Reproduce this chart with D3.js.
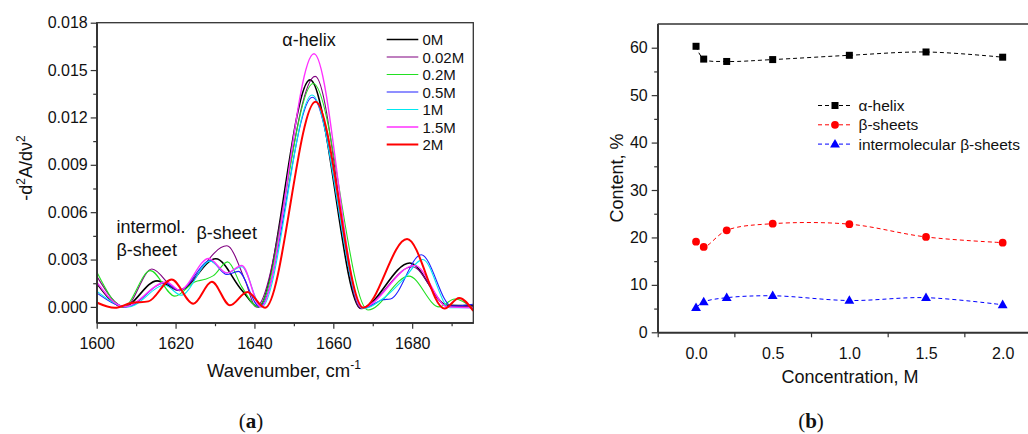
<!DOCTYPE html>
<html>
<head>
  <script src="https://d3js.org/d3.v7.min.js"></script>
  <meta charset='utf-8'>
  <style>
    body { margin: 0; background: #fff; }
    text { font-family: "Liberation Sans", Arial, sans-serif; fill: #111; }
  </style>
</head>
<body>
  <div id="container"></div>
  <script>
  // panel (a): second-derivative spectra, [wavenumber, value x 1e-3]
  const spec0M   = [[1600,1.5],[1606.8,0],[1615.3,1.65],[1621,1.05],[1630.2,3.05],[1636.8,1.06],[1641,0],[1654.1,14.38],[1667,-0.1],[1679.4,2.78],[1689,0.1],[1695.5,0.08]];
  const spec002M = [[1600,1.95],[1607.2,0],[1614,2.4],[1620.5,1.05],[1633,3.87],[1637.6,1.7],[1640.4,0],[1655.4,14.6],[1667,-0.1],[1680,2.54],[1689,0.05],[1695.5,0.05]];
  const spec02M  = [[1600,2.22],[1606.8,0],[1613.6,2.3],[1619.8,0.68],[1625,1.6],[1627.5,1.75],[1629.6,1.98],[1633.2,2.85],[1636.8,1.27],[1640.9,0],[1654.9,14.15],[1668.8,-0.2],[1679.2,1.95],[1686.8,0],[1690.8,0.5],[1695.5,-0.1]];
  const spec05M  = [[1600,0.89],[1607.6,0],[1617.3,1.52],[1621,1.06],[1628.8,2.93],[1633,2.05],[1635.9,2.25],[1641.3,0],[1654.7,13.28],[1667.5,-0.1],[1672.5,0.45],[1674.5,0.5],[1682.3,3.3],[1690,0.05],[1695.5,0.17]];
  const spec1M   = [[1600,1.0],[1608,0],[1617.3,1.37],[1621.4,0.74],[1628.8,2.9],[1633,2.15],[1636.8,2.54],[1641.8,0],[1654.6,13.42],[1667.5,-0.1],[1673,0.6],[1677.8,1.75],[1682.7,3.0],[1689.5,-0.05],[1695.5,-0.05]];
  const spec15M  = [[1600,1.58],[1607,0],[1617.7,1.58],[1621,1.06],[1628.4,3.07],[1633,2.15],[1636.8,2.62],[1641.6,0],[1655.1,16.03],[1667.3,-0.05],[1680.6,2.63],[1689,0],[1695.5,-0.05]];
  const spec2M   = [[1600,0.28],[1604.6,-0.06],[1608.7,0.25],[1613.1,0.35],[1619,1.73],[1624.5,0.2],[1629.2,1.59],[1633.8,0.1],[1638.2,0.95],[1642.7,-0.05],[1655.5,13.0],[1667.6,-0.05],[1678.7,4.3],[1688.2,-0.1],[1691.9,0.57],[1695.5,-0.25]];

  const specNames  = ["0M", "0.02M", "0.2M", "0.5M", "1M", "1.5M", "2M"];
  const specColors = ["#000000", "#800080", "#22e022", "#2020ff", "#00e8f0", "#ff30ff", "#ff0000"];
  const specWidths = [1.6, 1.1, 1.1, 1.1, 1.1, 1.4, 2.0];
  const specData   = [spec0M, spec002M, spec02M, spec05M, spec1M, spec15M, spec2M];

  const wnTicks = [1600, 1620, 1640, 1660, 1680];
  const dTicks  = [0, 0.003, 0.006, 0.009, 0.012, 0.015, 0.018];

  // panel (b): secondary structure content, %
  const conc        = [0, 0.05, 0.2, 0.5, 1.0, 1.5, 2.0];
  const helix       = [60.3, 57.6, 57.1, 57.5, 58.4, 59.1, 58.0];
  const sheets      = [19.1, 18.0, 21.5, 22.9, 22.8, 20.1, 18.9];
  const interSheets = [5.2, 6.4, 7.3, 7.7, 6.7, 7.3, 5.8];
  const concTicks   = [0, 0.5, 1.0, 1.5, 2.0];
  const contTicks   = [0, 10, 20, 30, 40, 50, 60];

  const W = 1028, H = 434;
  const axisCol = "#333";

  const svg = d3.select("#container").append("svg")
    .attr("width", W).attr("height", H);

  // ---------- panel (a) ----------
  const xa = d3.scaleLinear().domain([1600, 1695.5]).range([96.7, 473.3]);
  const ya = d3.scaleLinear().domain([-0.001, 0.018]).range([322.7, 22.7]);

  svg.append("clipPath").attr("id", "clipA")
    .append("rect").attr("x", 96.7).attr("y", 22.7).attr("width", 376.6).attr("height", 300);

  const lineA = d3.line()
    .x(d => xa(d[0])).y(d => ya(d[1] / 1000))
    .curve(d3.curveMonotoneX);

  const gA = svg.append("g").attr("clip-path", "url(#clipA)");
  specData.forEach((s, i) => {
    gA.append("path").datum(s)
      .attr("d", lineA)
      .attr("fill", "none")
      .attr("stroke", specColors[i])
      .attr("stroke-width", specWidths[i]);
  });

  // frame
  svg.append("rect")
    .attr("x", 96.7).attr("y", 22.7).attr("width", 376.6).attr("height", 300)
    .attr("fill", "none").attr("stroke", axisCol).attr("stroke-width", 1.3);

  const axA = svg.append("g").attr("transform", "translate(0,322.7)")
    .call(d3.axisBottom(xa).tickValues(wnTicks).tickFormat(d3.format("d")).tickSize(6).tickSizeOuter(0).tickPadding(9));
  svg.append("g").attr("transform", "translate(0,322.7)")
    .call(d3.axisBottom(xa).tickValues([1610, 1630, 1650, 1670, 1690]).tickFormat("").tickSize(3.5).tickSizeOuter(0));
  const ayA = svg.append("g").attr("transform", "translate(96.7,0)")
    .call(d3.axisLeft(ya).tickValues(dTicks).tickFormat(d3.format(".3f")).tickSize(6).tickSizeOuter(0).tickPadding(3));
  svg.append("g").attr("transform", "translate(96.7,0)")
    .call(d3.axisLeft(ya).tickValues([0.0015, 0.0045, 0.0075, 0.0105, 0.0135, 0.0165]).tickFormat("").tickSize(3.5).tickSizeOuter(0));

  // legend (a)
  specNames.forEach((n, i) => {
    const yy = 39.5 + i * 17.5;
    svg.append("line").attr("x1", 386.7).attr("x2", 418.3).attr("y1", yy).attr("y2", yy)
      .attr("stroke", specColors[i]).attr("stroke-width", specWidths[i]);
    svg.append("text").attr("x", 422.5).attr("y", yy + 5.5).attr("font-size", 15).text(n);
  });

  // annotations
  svg.append("text").attr("x", 309).attr("y", 46).attr("font-size", 18).attr("text-anchor", "middle").text("α-helix");
  svg.append("text").attr("x", 116.5).attr("y", 233).attr("font-size", 18).text("intermol.");
  svg.append("text").attr("x", 116.5).attr("y", 256).attr("font-size", 18).text("β-sheet");
  svg.append("text").attr("x", 196.5).attr("y", 239).attr("font-size", 18).text("β-sheet");

  // axis titles (a)
  const xtA = svg.append("text").attr("x", 284).attr("y", 377).attr("font-size", 18.5).attr("text-anchor", "middle");
  xtA.append("tspan").text("Wavenumber, cm");
  xtA.append("tspan").attr("font-size", 12).attr("dy", -8).text("-1");

  const ytA = svg.append("text").attr("transform", "translate(32,168) rotate(-90)").attr("font-size", 18).attr("text-anchor", "middle");
  ytA.append("tspan").text("-d");
  ytA.append("tspan").attr("font-size", 12).attr("dy", -7).text("2");
  ytA.append("tspan").attr("dy", 7).text("A/dν");
  ytA.append("tspan").attr("font-size", 12).attr("dy", -7).text("2");

  // ---------- panel (b) ----------
  const xb = d3.scaleLinear().domain([-0.25, 2.25]).range([657.7, 1041]);
  const yb = d3.scaleLinear().domain([0, 65]).range([332.3, 24]);

  svg.append("line").attr("x1", 657.7).attr("x2", W).attr("y1", 24).attr("y2", 24)
    .attr("stroke", axisCol).attr("stroke-width", 1.3);
  svg.append("line").attr("x1", 657.7).attr("x2", W).attr("y1", 332.3).attr("y2", 332.3)
    .attr("stroke", axisCol).attr("stroke-width", 1.3);
  svg.append("line").attr("x1", 657.7).attr("x2", 657.7).attr("y1", 24).attr("y2", 332.3)
    .attr("stroke", axisCol).attr("stroke-width", 1.3);

  const axB = svg.append("g").attr("transform", "translate(0,332.3)")
    .call(d3.axisBottom(xb).tickValues(concTicks).tickFormat(d3.format(".1f")).tickSize(0).tickSizeOuter(0).tickPadding(15));
  svg.append("g").attr("transform", "translate(0,332.3)")
    .call(d3.axisBottom(xb).tickValues([-0.25, 0.25, 0.75, 1.25, 1.75]).tickFormat("").tickSize(5).tickSizeOuter(0));
  const ayB = svg.append("g").attr("transform", "translate(657.7,0)")
    .call(d3.axisLeft(yb).tickValues(contTicks).tickFormat(d3.format("d")).tickSize(6).tickSizeOuter(0).tickPadding(4));
  svg.append("g").attr("transform", "translate(657.7,0)")
    .call(d3.axisLeft(yb).tickValues([5, 15, 25, 35, 45, 55]).tickFormat("").tickSize(3.5).tickSizeOuter(0));

  [axA, ayA, axB, ayB].forEach(g => g.selectAll("text").attr("font-size", 16).attr("fill", "#111")
    .style("font-family", "'Liberation Sans', Arial, sans-serif"));
  svg.selectAll(".domain").attr("stroke", axisCol).attr("stroke-width", 1.3);
  svg.selectAll(".tick line").attr("stroke", axisCol).attr("stroke-width", 1.2);

  const lineB = d3.line().x(d => xb(d[0])).y(d => yb(d[1])).curve(d3.curveCatmullRom.alpha(0.5));

  const seriesB = [
    { vals: helix, color: "#000000", shape: "square", name: "α-helix" },
    { vals: sheets, color: "#ff0000", shape: "circle", name: "β-sheets" },
    { vals: interSheets, color: "#0000ff", shape: "triangle", name: "intermolecular β-sheets" }
  ];

  function marker(g, shape, x, y, color) {
    if (shape === "square") {
      g.append("rect").attr("x", x - 3.5).attr("y", y - 3.5).attr("width", 7).attr("height", 7).attr("fill", color);
    } else if (shape === "circle") {
      g.append("circle").attr("cx", x).attr("cy", y).attr("r", 3.9).attr("fill", color);
    } else {
      g.append("path").attr("d", d3.symbol(d3.symbolTriangle, 42)()).attr("transform", `translate(${x},${y + 0.5})`).attr("fill", color);
    }
  }

  seriesB.forEach((s, k) => {
    const pts = conc.map((c, i) => [c, s.vals[i]]);
    svg.append("path").datum(pts).attr("d", lineB)
      .attr("fill", "none").attr("stroke", s.color).attr("stroke-width", 1)
      .attr("stroke-dasharray", "4,3");
    pts.forEach(p => marker(svg, s.shape, xb(p[0]), yb(p[1]), s.color));

    // legend (b)
    const ly = 105.5 + k * 19.3;
    svg.append("line").attr("x1", 818).attr("x2", 852).attr("y1", ly).attr("y2", ly)
      .attr("stroke", s.color).attr("stroke-width", 1).attr("stroke-dasharray", "4,3");
    marker(svg, s.shape, 835, ly, s.color);
    svg.append("text").attr("x", 858.5).attr("y", ly + 5.5).attr("font-size", 15.5).text(s.name);
  });

  svg.append("text").attr("x", 850).attr("y", 383).attr("font-size", 18).attr("text-anchor", "middle").text("Concentration, M");
  svg.append("text").attr("transform", "translate(623,178) rotate(-90)").attr("font-size", 18).attr("text-anchor", "middle").text("Content, %");

  // panel labels
  [["a", 251], ["b", 811]].forEach(([l, x]) => {
    const t = svg.append("text").attr("x", x).attr("y", 428).attr("font-size", 21).attr("text-anchor", "middle")
      .style("font-family", "'Liberation Serif', 'Times New Roman', serif");
    t.append("tspan").text("(");
    t.append("tspan").attr("font-weight", "bold").text(l);
    t.append("tspan").text(")");
  });
  </script>
</body>
</html>
